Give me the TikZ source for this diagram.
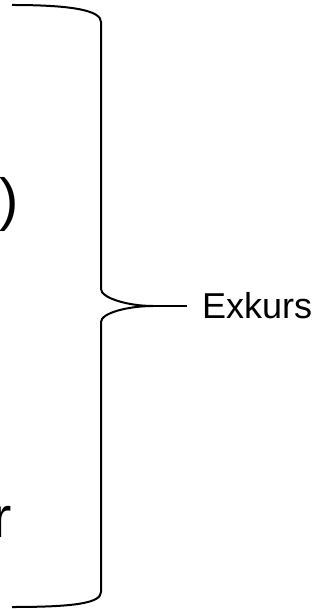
\documentclass[tikz,border=0pt]{standalone}
\usepackage{fontspec}
\setmainfont{Liberation Sans}
\usepackage{tikz}
\usetikzlibrary{positioning, calc}

\begin{document}
\begin{tikzpicture}[x=1pt, y=-1pt,
    bracelinie/.style={black, line width=2pt},
    bigtext/.style={inner sep=0pt, font=\fontsize{58}{64}\selectfont}]
    \useasboundingbox (0,0) rectangle (333,609);
    \clip (0,0) rectangle (333,609);
    % cut-off text on the left
    \node[bigtext, anchor=base east] (klammer) at (18.6,220) {)};
    \node[bigtext, anchor=base east] (wort) at (12.5,537) {r};
    % the brace
    \coordinate (spitze) at (153,306);
    \draw[bracelinie] (12,5) .. controls (75,5) and (101,11) .. (101,22)
        -- (101,289) .. controls (101,298) and (128,306) .. (spitze)
        .. controls (128,306) and (101,313) .. (101,322)
        -- (101,592) .. controls (101,603) and (75,607) .. (12,607);
    \node[inner xsep=15pt, inner ysep=0pt, anchor=west, font=\fontsize{36}{40}\selectfont] (exkurs) at (187,306) {Exkurs};
    \draw[bracelinie] (spitze) -- (exkurs.west);
\end{tikzpicture}
\end{document}
